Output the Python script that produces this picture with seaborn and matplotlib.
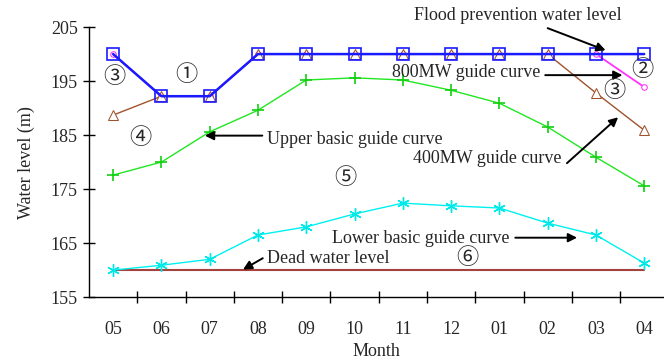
import numpy as np
import pandas as pd
import seaborn as sns
import matplotlib.pyplot as plt

# Month labels (May to April)
months = ["05", "06", "07", "08", "09", "10", "11", "12", "01", "02", "03", "04"]

# Water levels (m)
flood = [200, 192.2, 192.2, 200, 200, 200, 200, 200, 200, 200, 200, 200]
mw800 = [200, 192.2, 192.2, 200, 200, 200, 200, 200, 200, 200, 200, 193.9]
mw400 = [188.7, 192.2, 192.2, 200, 200, 200, 200, 200, 200, 200, 192.8, 185.9]
upper = [177.6, 180.0, 185.6, 189.6, 195.2, 195.6, 195.2, 193.3, 190.9, 186.5, 180.9, 175.6]
lower = [160.0, 160.9, 162.0, 166.5, 168.0, 170.4, 172.4, 171.9, 171.5, 168.7, 166.5, 161.3]
dead = [160] * 12

sns.set_style("white")
plt.rcParams["font.family"] = ["Liberation Serif", "Noto Sans CJK SC", "DejaVu Sans"]

pos = np.arange(len(months))
df = pd.DataFrame({"pos": pos, "flood": flood, "mw800": mw800, "mw400": mw400,
                   "upper": upper, "lower": lower, "dead": dead})

fig = plt.figure(figsize=(6.64, 3.61), dpi=100)
ax = fig.add_axes([0.134, 0.177, 0.866, 0.748])

sns.lineplot(data=df, x="pos", y="dead", color="#a5423d", lw=1.5, ax=ax)
sns.lineplot(data=df, x="pos", y="lower", color="#00f0f0", lw=1, marker=(6, 2, 0),
             markersize=9, markeredgecolor="#00e8e8", markeredgewidth=1, ax=ax)
sns.lineplot(data=df, x="pos", y="upper", color="#22e622", lw=1, marker="+",
             markersize=9, markeredgecolor="#10d010", markeredgewidth=1.2, ax=ax)
sns.lineplot(data=df, x="pos", y="mw800", color="#ff33ff", lw=1.3, marker="o",
             markersize=4, markerfacecolor="white", markeredgecolor="#ff33ff", ax=ax)
sns.lineplot(data=df, x="pos", y="mw400", color="#a0522d", lw=1, marker="^",
             markersize=7, markerfacecolor="white", markeredgecolor="#a0522d", ax=ax)
sns.lineplot(data=df, x="pos", y="flood", color="#1a1aff", lw=1.8, marker="s",
             markersize=9, markerfacecolor="none", markeredgecolor="#1a1aff",
             markeredgewidth=1.2, ax=ax)

ax.set_xlim(-0.5, 11.41)
ax.set_ylim(155, 205)
ax.set_yticks([155, 165, 175, 185, 195, 205])
ax.set_xticks(pos)
ax.set_xticklabels(months)
ax.set_xticks(np.arange(0.5, 11, 1), minor=True)
ax.tick_params(axis="x", which="major", bottom=True, length=0, pad=17, labelsize=13)
ax.tick_params(axis="x", which="minor", bottom=True, direction="inout", length=9,
               width=1, color="black")
ax.tick_params(axis="y", left=True, direction="inout", length=8, width=1, color="black",
               labelsize=13, pad=4)
ax.set_xlabel("Month", fontsize=13, labelpad=4)
ax.set_ylabel("Water level (m)", fontsize=13, labelpad=11)
for s in ["top", "right"]:
    ax.spines[s].set_visible(False)
for s in ["left", "bottom"]:
    ax.spines[s].set_color("black")
    ax.spines[s].set_linewidth(1)

ap = dict(arrowstyle="-|>", color="black", lw=1.4, mutation_scale=13, shrinkA=0, shrinkB=0)
fs = 13
ax.text(8.39, 207.2, "Flood prevention water level", fontsize=fs, ha="center", va="center")
ax.annotate("", xy=(10.2, 200.7), xytext=(9.0, 204.8), arrowprops=ap, annotation_clip=False)
ax.text(8.85, 196.6, "800MW guide curve", fontsize=fs, ha="right", va="center")
ax.annotate("", xy=(10.55, 196.1), xytext=(8.95, 196.1), arrowprops=ap)
ax.text(3.19, 184.2, "Upper basic guide curve", fontsize=fs, ha="left", va="center")
ax.annotate("", xy=(1.9, 184.9), xytext=(3.09, 184.9), arrowprops=ap)
ax.text(7.75, 180.7, "400MW guide curve", fontsize=fs, ha="center", va="center")
ax.annotate("", xy=(10.46, 188.3), xytext=(9.4, 179.8), arrowprops=ap)
ax.text(8.2, 165.8, "Lower basic guide curve", fontsize=fs, ha="right", va="center")
ax.annotate("", xy=(9.61, 166.0), xytext=(8.33, 166.0), arrowprops=ap)
ax.text(3.19, 162.2, "Dead water level", fontsize=fs, ha="left", va="center")
ax.annotate("", xy=(2.69, 160.1), xytext=(3.1, 162.2), arrowprops=ap)

for lab, x, y in [("③", 0.02, 195.7), ("①", 1.51, 196.1), ("②", 10.96, 196.9),
                  ("③", 10.38, 193.0), ("④", 0.56, 184.3), ("⑤", 4.81, 177.0),
                  ("⑥", 7.33, 162.2)]:
    ax.text(x, y, lab, fontsize=16, ha="center", va="center")

fig.savefig("out.png", dpi=100)
